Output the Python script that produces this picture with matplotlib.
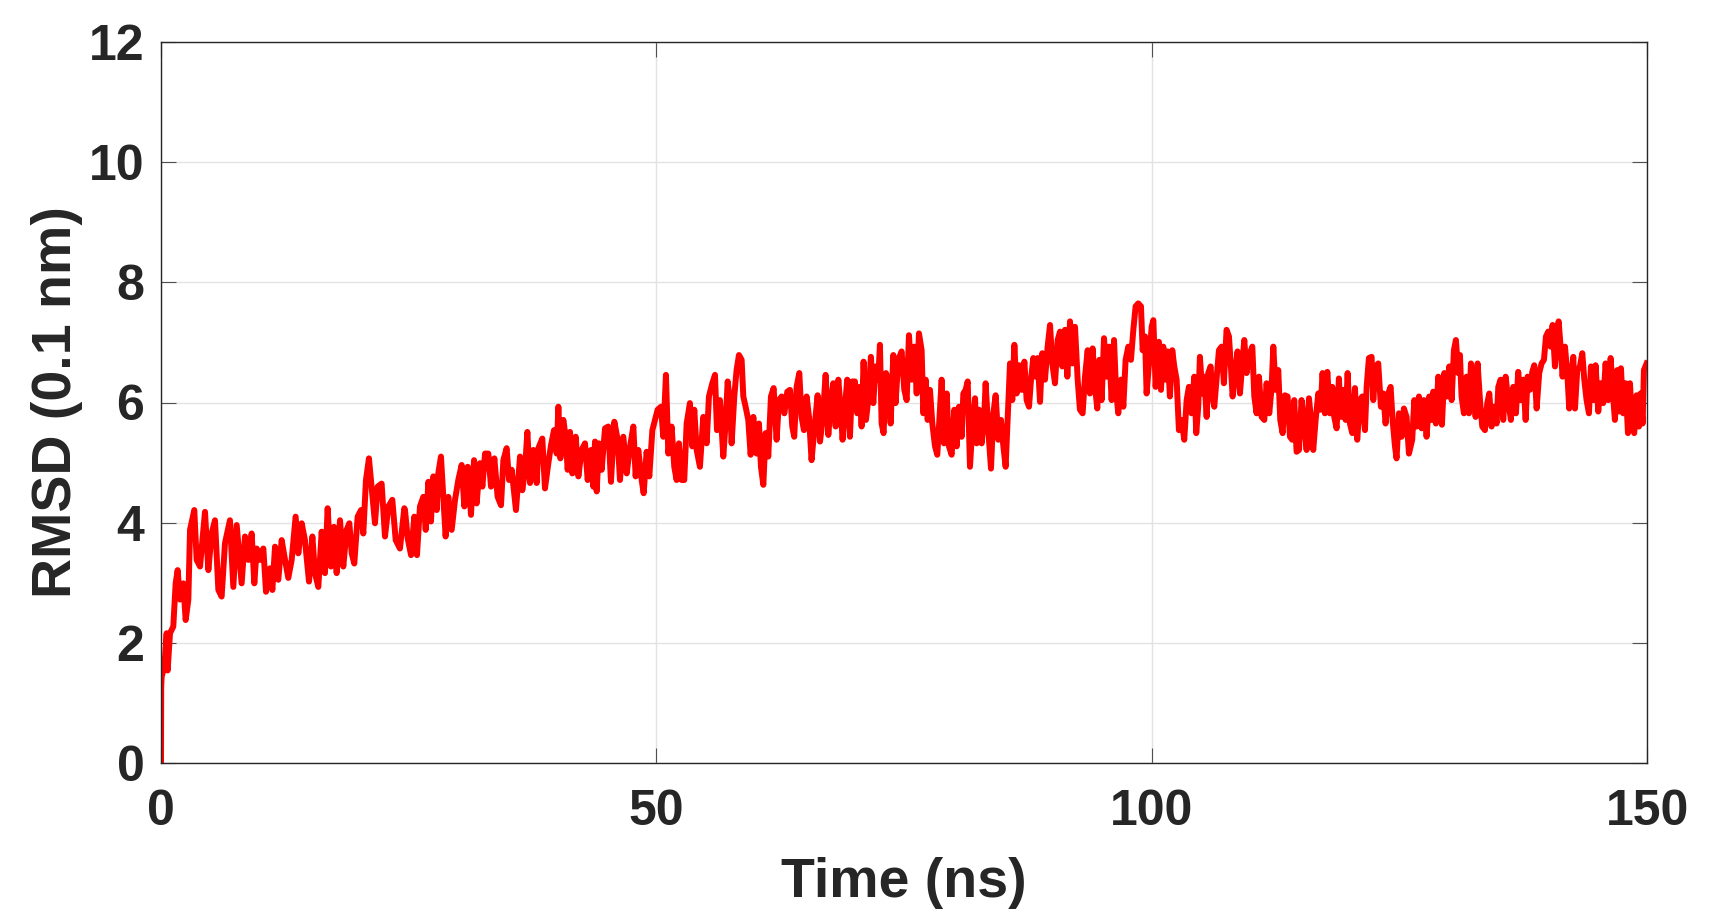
import numpy as np
import matplotlib
matplotlib.use("Agg")
import matplotlib.pyplot as plt

# RMSD trace, time in ns, RMSD in 0.1 nm
time_ns = [
    0.0, 0.02, 0.07, 0.34, 0.57, 0.67, 0.91, 1.24, 1.48, 1.68, 1.92, 2.25, 2.49, 2.76, 2.93,
    3.36, 3.60, 3.94, 4.44, 4.78, 5.11, 5.45, 5.79, 6.12, 6.46, 6.96, 7.30, 7.64, 8.14, 8.48,
    8.82, 9.15, 9.42, 9.66, 9.99, 10.33, 10.60, 11.00, 11.24, 11.51, 11.84, 12.18, 12.52, 12.85,
    13.19, 13.59, 13.86, 14.20, 14.53, 14.94, 15.28, 15.54, 15.88, 16.22, 16.55, 16.82, 17.16,
    17.46, 17.73, 18.07, 18.40, 18.74, 19.01, 19.25, 19.51, 19.85, 20.19, 20.42, 20.69, 20.99,
    21.26, 21.60, 21.87, 22.27, 22.61, 22.95, 23.35, 23.69, 24.12, 24.56,
    24.63, 24.90, 25.24, 25.57, 25.84, 26.14, 26.48, 26.72, 26.99, 27.25, 27.49, 27.83, 27.99,
    28.26, 28.50, 28.73, 29.00, 29.34, 29.68, 30.01, 30.35, 30.62, 30.96, 31.29, 31.60, 31.86,
    32.20, 32.44, 32.71, 33.04, 33.31, 33.65, 33.98, 34.32, 34.56, 34.89, 35.13, 35.40, 35.83,
    36.24, 36.47, 36.74, 36.98, 37.25, 37.58, 37.92, 38.09, 38.49, 38.76, 39.10, 39.37, 39.67,
    39.94, 40.11, 40.31, 40.61, 40.85, 41.05, 41.29, 41.52, 41.86, 42.13, 42.46, 42.80, 43.07,
    43.41, 43.64, 43.81, 43.98, 44.21, 44.48, 44.82, 45.15, 45.42, 45.76, 46.10, 46.33, 46.67,
    47.01, 47.34, 47.68, 47.91, 48.18, 48.52, 48.72, 49.02, 49.29, 49.60,
    50.13, 50.47, 50.70, 50.97, 51.21, 51.54, 51.81, 52.05, 52.28, 52.55, 52.82, 53.06, 53.39,
    53.63, 53.83, 54.07, 54.40, 54.74, 55.08, 55.31, 55.65, 55.92, 56.12, 56.42, 56.76, 56.99,
    57.20, 57.43, 57.60, 57.87, 58.10, 58.34, 58.61, 58.78, 59.01, 59.28, 59.52, 59.79, 60.12,
    60.36, 60.56, 60.80, 61.03, 61.30, 61.57, 61.84, 62.14, 62.38, 62.65, 62.92, 63.22, 63.49,
    63.72, 63.92, 64.16, 64.43, 64.66, 64.90, 65.17, 65.41, 65.67, 65.94, 66.28, 66.52, 66.78,
    67.09, 67.36, 67.63, 67.86, 68.10, 68.37, 68.64, 68.80, 69.04, 69.27, 69.54, 69.78, 70.05,
    70.28, 70.55, 70.72, 70.92, 71.16, 71.39, 71.66, 71.90, 72.13, 72.40, 72.57, 72.74, 72.94,
    73.18, 73.41, 73.65, 73.92, 74.15, 74.42, 74.76, 75.03,
    75.27, 75.50, 75.77, 76.04, 76.28, 76.51, 76.78, 76.95, 77.19, 77.39, 77.62, 77.86, 78.13,
    78.36, 78.57, 78.80, 79.04, 79.31, 79.54, 79.81, 80.08, 80.32, 80.55, 80.82, 80.99, 81.22,
    81.43, 81.66, 81.90, 82.17, 82.33, 82.57, 82.84, 83.11, 83.24, 83.51, 83.78, 84.02, 84.25,
    84.52, 84.79, 85.03, 85.26, 85.46, 85.70, 85.93, 86.14, 86.37, 86.61, 86.88, 87.15, 87.38,
    87.62, 87.82, 88.05, 88.29, 88.49, 88.73, 88.96, 89.23, 89.50, 89.74, 89.97, 90.24, 90.51,
    90.75, 90.98, 91.25, 91.49, 91.76, 91.99, 92.26, 92.53, 92.76, 93.03, 93.27, 93.54, 93.77,
    94.04, 94.28, 94.51, 94.72, 94.95, 95.19, 95.46, 95.69, 95.96, 96.20, 96.40, 96.63, 96.90,
    97.14, 97.37, 97.64, 97.91, 98.15, 98.38, 98.65, 98.92, 99.09, 99.33, 99.49, 99.73, 100.00,
    100.17, 100.40,
    100.73, 100.94, 101.17, 101.41, 101.61, 101.84, 102.08, 102.28, 102.52, 102.75, 103.02,
    103.29, 103.53, 103.76, 104.03, 104.30, 104.50, 104.70, 104.87, 105.11, 105.31, 105.55,
    105.71, 105.95, 106.12, 106.32, 106.55, 106.79, 107.06, 107.29, 107.56, 107.80, 108.00,
    108.17, 108.41, 108.67, 108.91, 109.15, 109.35, 109.58, 109.85, 110.16, 110.36, 110.59,
    110.83, 111.10, 111.37, 111.60, 111.87, 112.11, 112.28, 112.51, 112.78, 112.98, 113.22,
    113.45, 113.72, 113.96, 114.19, 114.39, 114.63, 114.87, 115.13, 115.37, 115.64, 115.88,
    116.08, 116.31, 116.55, 116.82, 117.05, 117.25, 117.49, 117.73, 117.99, 118.23, 118.43,
    118.67, 118.90, 119.11, 119.34, 119.58, 119.78, 120.01, 120.25, 120.52, 120.75, 121.02,
    121.26, 121.53, 121.70, 121.93, 122.20, 122.37, 122.61, 122.87, 123.14, 123.38, 123.61,
    123.88, 124.12, 124.32, 124.56, 124.72, 124.96, 125.23, 125.46, 125.73, 125.97,
    126.30, 126.51, 126.74, 126.98, 127.25, 127.48, 127.75, 128.02, 128.26, 128.42, 128.69,
    128.93, 129.10, 129.30, 129.54, 129.77, 130.04, 130.28, 130.51, 130.71, 130.95, 131.12,
    131.28, 131.52, 131.79, 132.03, 132.23, 132.46, 132.70, 132.90, 133.14, 133.37, 133.64,
    133.88, 134.08, 134.31, 134.55, 134.82, 134.99, 135.22, 135.49, 135.73, 135.99, 136.26,
    136.50, 136.77, 137.00, 137.24, 137.51, 137.75, 137.95, 138.18, 138.42, 138.62, 138.86,
    139.12, 139.36, 139.60, 139.80, 140.03, 140.27, 140.47, 140.71, 140.94, 141.08, 141.28,
    141.48, 141.72, 141.95, 142.15, 142.32, 142.56, 142.73, 142.96, 143.23, 143.47, 143.67,
    143.90, 144.14, 144.34, 144.58, 144.81, 145.08, 145.32, 145.58, 145.82, 146.09, 146.33,
    146.53, 146.76, 147.00, 147.20, 147.37, 147.60, 147.84, 148.08, 148.28, 148.51, 148.71,
    148.95, 149.19, 149.35, 149.56, 149.69, 149.96,
]

rmsd = [
    0.0, 1.27, 1.44, 1.60, 2.16, 1.54, 2.16, 2.27, 2.99, 3.21, 2.72, 2.99, 2.38, 2.72, 3.88,
    4.21, 3.38, 3.27, 4.18, 3.21, 3.82, 4.04, 2.88, 2.77, 3.66, 4.04, 2.93, 3.96, 2.99, 3.77,
    3.38, 3.82, 2.99, 3.57, 3.38, 3.57, 2.85, 3.24, 2.88, 3.60, 3.05, 3.71, 3.38, 3.08,
    3.38, 4.10, 3.49, 3.99, 3.71, 3.02, 3.77, 3.16, 2.93, 3.85, 3.16, 4.24, 3.27,
    3.93, 3.16, 4.04, 3.27, 3.88, 3.99, 3.49, 3.32, 4.10, 4.21, 3.82, 4.71, 5.07,
    4.60, 3.99, 4.60, 4.65, 3.77, 4.27, 4.38, 3.71, 3.57, 4.24,
    4.21, 3.74, 3.46, 4.10, 3.46, 4.27, 4.43, 3.88, 4.68, 4.02, 4.77, 4.21, 4.82,
    5.10, 4.43, 3.77, 4.43, 3.88, 4.38, 4.71, 4.96, 4.27, 4.93, 4.13, 5.04, 4.32,
    4.99, 4.60, 5.15, 5.15, 4.60, 5.07, 4.43, 4.29, 5.04, 5.24, 4.71, 4.88, 4.21,
    5.10, 4.54, 4.88, 5.51, 4.66, 5.21, 4.66, 5.24, 5.40, 4.57, 4.99, 5.29, 5.54,
    5.15, 5.93, 5.07, 5.71, 5.43, 4.88, 5.51, 4.82, 5.43, 4.77, 5.21, 5.32, 4.71,
    5.21, 4.60, 5.35, 4.52, 5.32, 4.88, 5.57, 5.60, 4.68, 5.68, 5.38, 4.71, 5.43,
    4.82, 5.26, 5.60, 4.77, 5.21, 4.71, 4.49, 5.18, 4.77, 5.54,
    5.88, 5.93, 5.43, 6.46, 5.15, 5.60, 4.93, 4.71, 5.32, 4.71, 4.71, 5.65, 5.99,
    5.27, 5.88, 5.21, 4.93, 5.76, 5.32, 6.10, 6.32, 6.46, 5.54, 6.04, 5.10, 5.65,
    6.35, 6.04, 5.32, 6.10, 6.54, 6.79, 6.71, 6.10, 5.93, 5.71, 5.13, 5.76, 5.15,
    5.65, 4.93, 4.63, 5.49, 5.10, 6.10, 6.24, 5.38, 6.04, 6.10, 5.82, 6.18, 6.21,
    5.60, 5.43, 6.26, 6.49, 5.76, 5.54, 6.10, 5.76, 5.04, 5.54, 6.12, 5.35, 5.71,
    6.46, 5.46, 6.04, 6.32, 5.60, 6.38, 5.82, 5.38, 5.93, 6.38, 5.43, 6.35, 6.35,
    5.82, 6.26, 5.60, 6.68, 5.71, 6.04, 6.76, 5.99, 6.60, 6.38, 6.96, 5.65, 5.49,
    6.49, 6.38, 5.65, 6.79, 5.99, 6.71, 6.85, 6.21,
    6.04, 7.12, 6.38, 6.93, 6.15, 7.15, 6.87, 5.82, 6.38, 5.71, 6.21, 5.65, 5.27,
    5.13, 5.71, 6.38, 5.32, 6.15, 5.27, 5.13, 5.88, 5.27, 5.93, 5.43, 6.15, 6.21,
    6.35, 4.93, 5.60, 6.07, 5.32, 5.88, 5.32, 5.82, 6.32, 5.54, 4.90, 5.82, 6.12,
    5.38, 5.71, 5.27, 4.93, 5.71, 6.65, 6.04, 6.96, 6.15, 6.62, 6.21, 6.68, 6.04,
    5.93, 6.38, 6.74, 6.43, 6.74, 6.01, 6.82, 6.38, 6.93, 7.29, 6.65, 6.32, 7.04,
    7.18, 6.60, 7.21, 6.43, 7.35, 6.65, 7.26, 6.38, 5.88, 5.82, 6.43, 6.87, 6.15,
    6.90, 6.26, 5.90, 6.71, 6.04, 7.07, 6.43, 6.93, 6.04, 7.04, 6.21, 5.82, 6.38,
    5.93, 6.71, 6.93, 6.71, 7.21, 7.60, 7.65, 7.60, 6.87, 7.10, 6.15, 6.65, 7.26,
    7.37, 6.26,
    7.01, 6.21, 6.93, 6.38, 6.85, 6.10, 6.87, 6.60, 6.38, 5.54, 5.71,
    5.38, 6.04, 6.26, 5.82, 6.43, 5.49, 5.93, 6.76, 6.15, 6.43, 5.76,
    6.49, 6.60, 6.10, 5.93, 6.38, 6.87, 6.93, 6.32, 7.21, 7.10, 6.60,
    6.10, 6.49, 6.85, 6.15, 6.65, 7.04, 6.49, 6.79, 6.93, 6.10, 5.82,
    6.43, 5.76, 5.71, 6.32, 5.82, 6.26, 6.93, 6.21, 6.54, 5.71, 5.49,
    6.12, 6.10, 5.43, 5.38, 6.04, 5.18, 5.21, 6.04, 5.71, 5.21, 6.07,
    5.71, 5.21, 5.71, 6.15, 5.88, 6.49, 5.82, 6.51, 5.82, 6.26, 5.76,
    5.57, 6.40, 5.76, 6.21, 5.71, 6.49, 5.65, 5.49, 6.24, 5.38, 6.04,
    6.10, 5.54, 6.26, 6.74, 6.76, 6.04, 6.60, 6.65, 5.93, 6.15, 5.65,
    6.15, 6.26, 5.71, 5.27, 5.07, 5.82, 5.43, 5.90, 5.76, 5.15,
    5.38, 6.04, 5.60, 6.10, 5.57, 6.04, 5.43, 6.10, 5.71, 6.18, 5.65,
    6.43, 5.93, 5.63, 6.49, 6.10, 6.60, 6.04, 6.87, 7.04, 6.49, 6.79,
    6.10, 5.82, 6.43, 5.82, 6.65, 6.32, 5.76, 6.65, 6.04, 5.60, 5.54,
    5.99, 6.15, 5.60, 5.93, 5.65, 6.26, 6.38, 5.71, 6.43, 6.04, 5.71,
    6.26, 5.82, 6.51, 6.04, 6.38, 5.71, 6.43, 6.21, 6.51, 6.62, 5.90,
    6.49, 6.65, 6.71, 7.10, 7.18, 6.93, 7.29, 6.60, 7.18, 7.35, 6.93,
    6.43, 6.93, 6.49, 5.90, 6.38, 6.76, 5.90, 6.54, 6.60, 6.82, 6.38,
    6.04, 5.82, 6.60, 6.04, 6.62, 5.85, 6.32, 5.99, 6.65, 6.04, 6.74,
    6.21, 5.71, 6.54, 5.85, 6.57, 5.82, 6.32, 5.49, 6.32, 5.60, 5.49,
    6.12, 5.60, 6.15, 5.65, 6.54, 6.65,
]

x_ticks = [0, 50, 100, 150]
y_ticks = [0, 2, 4, 6, 8, 10, 12]

txt = '#262626'
plt.rcParams['font.family'] = ['Liberation Sans', 'DejaVu Sans']
plt.rcParams['font.weight'] = 'bold'

fig = plt.figure(figsize=(17.26, 9.09), dpi=100)
ax = fig.add_axes([161 / 1726, 146 / 909, 1486 / 1726, 721 / 909])

ax.plot(time_ns, rmsd, color='#ff0000', lw=4.3, solid_joinstyle='round')

ax.set_xlim(0, 150)
ax.set_ylim(0, 12)
ax.set_xticks(x_ticks)
ax.set_yticks(y_ticks)
ax.grid(True, color='#e2e2e2', lw=1.0)
ax.set_axisbelow(True)

for s in ax.spines.values():
    s.set_color(txt)
    s.set_linewidth(1.0)

ax.tick_params(direction='in', length=10.8, width=0.8, color='#505050',
               top=True, right=True, labelsize=36, labelcolor=txt)
ax.tick_params(axis='x', pad=19)
ax.tick_params(axis='y', pad=12)
for lab in ax.get_xticklabels() + ax.get_yticklabels():
    lab.set_fontweight('bold')

ax.set_xlabel('Time (ns)', fontsize=40, fontweight='bold', color=txt)
ax.set_ylabel('RMSD (0.1 nm)', fontsize=40, fontweight='bold', color=txt)
ax.xaxis.set_label_coords(0.5, -0.13)
ax.yaxis.set_label_coords(-0.0525, 0.5)

fig.savefig('out.png', dpi=100, facecolor='white')
